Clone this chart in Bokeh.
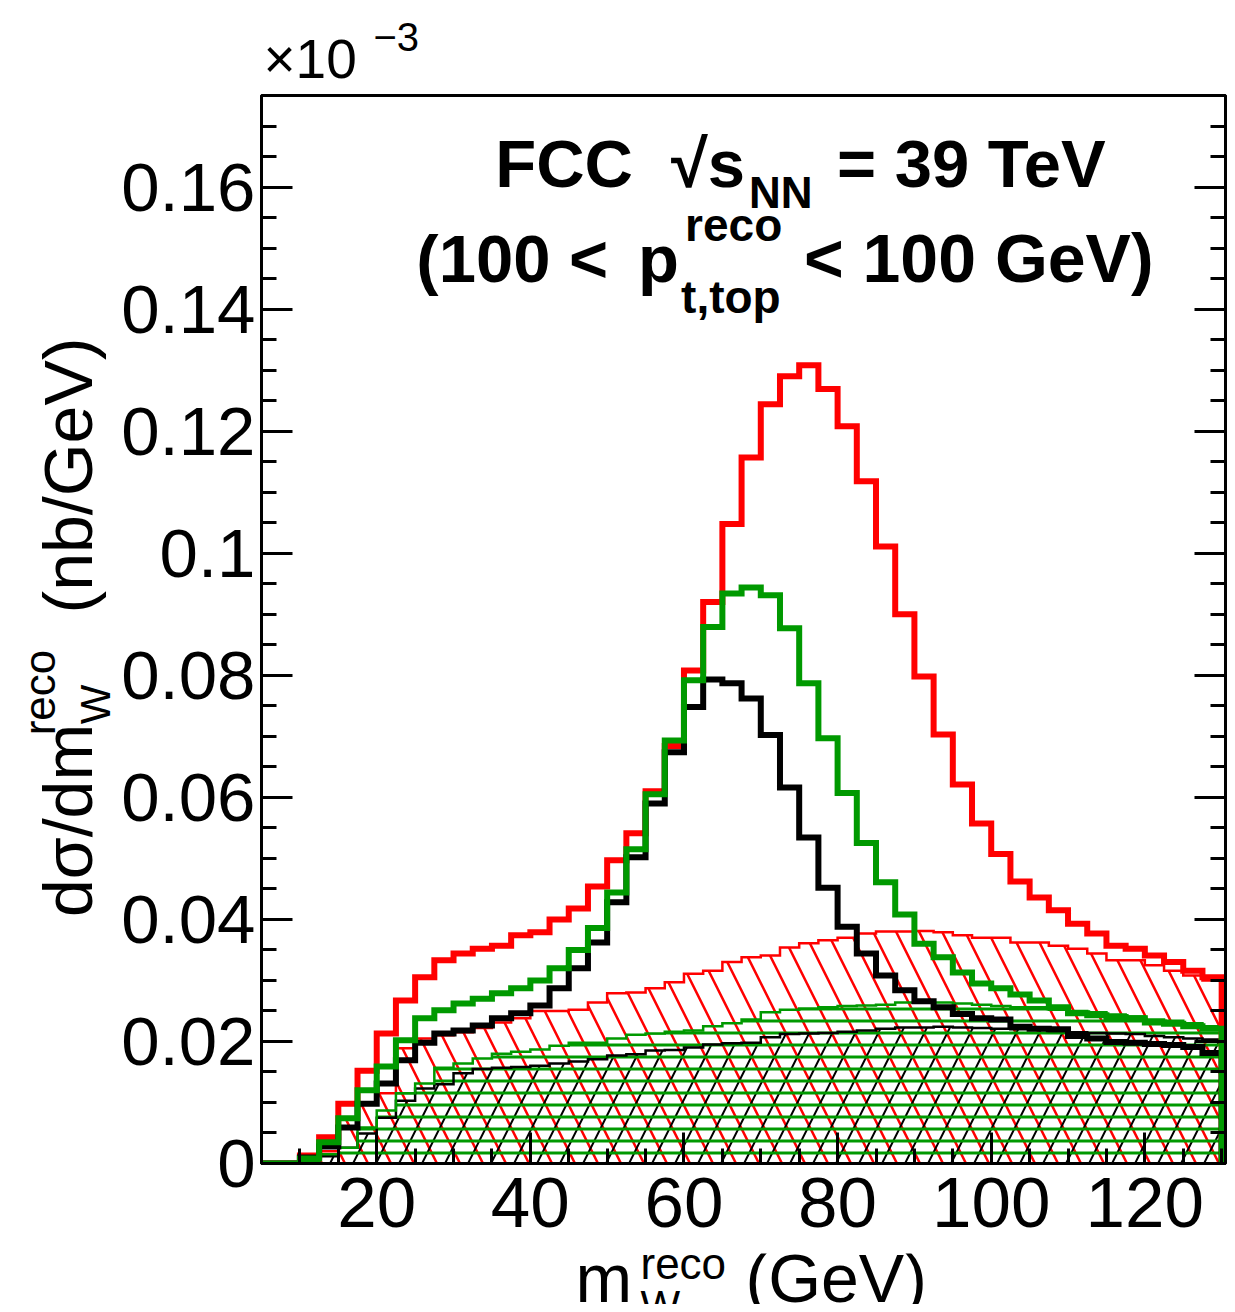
import math
from bokeh.plotting import figure
from bokeh.layouts import column, row
from bokeh.models import Range1d, FixedTicker, LinearAxis, Label, CustomJSTickFormatter
from bokeh.embed import file_html
from bokeh.resources import INLINE

# ---------------- data (dsigma/dm in units of 1e-3 nb/GeV) ----------------
bin_edges = [5.0, 7.5, 10.0, 12.5, 15.0, 17.5, 20.0, 22.5, 25.0, 27.5,
             30.0, 32.5, 35.0, 37.5, 40.0, 42.5, 45.0, 47.5, 50.0, 52.5,
             55.0, 57.5, 60.0, 62.5, 65.0, 67.5, 70.0, 72.5, 75.0, 77.5,
             80.0, 82.5, 85.0, 87.5, 90.0, 92.5, 95.0, 97.5, 100.0, 102.5,
             105.0, 107.5, 110.0, 112.5, 115.0, 117.5, 120.0, 122.5, 125.0, 127.5,
             130.0]

red_total = [0.0, 0.0, 0.0013, 0.0043, 0.0098, 0.0152, 0.0213, 0.0267, 0.0305, 0.0333,
             0.0344, 0.0352, 0.0357, 0.0374, 0.0379, 0.0400, 0.0418, 0.0454, 0.0497, 0.0541,
             0.0610, 0.0684, 0.0808, 0.0920, 0.1048, 0.1157, 0.1244, 0.1290, 0.1308, 0.1269,
             0.1208, 0.1118, 0.1011, 0.0900, 0.0798, 0.0703, 0.0621, 0.0557, 0.0507, 0.0462,
             0.0436, 0.0415, 0.0393, 0.0377, 0.0357, 0.0352, 0.0341, 0.0330, 0.0316, 0.0305]

black_total = [0.0, 0.0, 0.0010, 0.0028, 0.0059, 0.0098, 0.0131, 0.0169, 0.0198, 0.0213,
               0.0218, 0.0226, 0.0238, 0.0246, 0.0259, 0.0287, 0.0320, 0.0362, 0.0428, 0.0502,
               0.0590, 0.0674, 0.0748, 0.0793, 0.0787, 0.0762, 0.0702, 0.0616, 0.0534, 0.0452,
               0.0388, 0.0344, 0.0308, 0.0284, 0.0266, 0.0256, 0.0245, 0.0238, 0.0236, 0.0224,
               0.0221, 0.0220, 0.0209, 0.0205, 0.0199, 0.0198, 0.0196, 0.0194, 0.0191, 0.0181]

green_total = [0.0, 0.0, 0.0008, 0.0035, 0.0074, 0.0120, 0.0159, 0.0202, 0.0238, 0.0251,
               0.0262, 0.0270, 0.0279, 0.0287, 0.0300, 0.0320, 0.0350, 0.0386, 0.0444, 0.0515,
               0.0605, 0.0693, 0.0792, 0.0879, 0.0934, 0.0944, 0.0931, 0.0877, 0.0787, 0.0697,
               0.0607, 0.0525, 0.0461, 0.0408, 0.0360, 0.0338, 0.0313, 0.0295, 0.0287, 0.0277,
               0.0267, 0.0256, 0.0246, 0.0243, 0.0240, 0.0238, 0.0231, 0.0229, 0.0225, 0.0221]

red_hatch = [0.0, 0.0, 0.0005, 0.0020, 0.0075, 0.0100, 0.0115, 0.0189, 0.0205, 0.0210,
             0.0215, 0.0222, 0.0231, 0.0238, 0.0250, 0.0250, 0.0252, 0.0264, 0.0279, 0.0280,
             0.0287, 0.0297, 0.0311, 0.0316, 0.0330, 0.0338, 0.0341, 0.0354, 0.0361, 0.0366,
             0.0370, 0.0377, 0.0380, 0.0380, 0.0381, 0.0379, 0.0374, 0.0370, 0.0370, 0.0362,
             0.0362, 0.0357, 0.0352, 0.0344, 0.0333, 0.0333, 0.0325, 0.0316, 0.0308, 0.0300]

green_hatch = [0.0, 0.0, 0.0003, 0.0015, 0.0026, 0.0059, 0.0087, 0.0115, 0.0131, 0.0157,
               0.0164, 0.0172, 0.0180, 0.0183, 0.0187, 0.0193, 0.0198, 0.0198, 0.0205, 0.0211,
               0.0213, 0.0216, 0.0218, 0.0225, 0.0230, 0.0236, 0.0248, 0.0252, 0.0254, 0.0256,
               0.0258, 0.0259, 0.0260, 0.0264, 0.0266, 0.0264, 0.0262, 0.0260, 0.0258, 0.0256,
               0.0256, 0.0252, 0.0250, 0.0248, 0.0244, 0.0241, 0.0236, 0.0234, 0.0230, 0.0225]

black_hatch = [0.0, 0.0, 0.0003, 0.0012, 0.0026, 0.0049, 0.0075, 0.0103, 0.0123, 0.0130,
               0.0148, 0.0155, 0.0157, 0.0158, 0.0160, 0.0164, 0.0167, 0.0171, 0.0177, 0.0179,
               0.0185, 0.0186, 0.0190, 0.0195, 0.0197, 0.0198, 0.0207, 0.0212, 0.0213, 0.0214,
               0.0216, 0.0218, 0.0221, 0.0223, 0.0223, 0.0224, 0.0223, 0.0222, 0.0221, 0.0220,
               0.0219, 0.0217, 0.0215, 0.0214, 0.0213, 0.0212, 0.0209, 0.0207, 0.0205, 0.0203]

x_ticks = [20, 40, 60, 80, 100, 120]
x_tick_labels = ["20", "40", "60", "80", "100", "120"]
x_minor = [5, 10, 15, 20, 25, 30, 35, 40, 45, 50, 55, 60, 65, 70, 75, 80, 85, 90,
           95, 100, 105, 110, 115, 120, 125, 130]
y_ticks = [0.0, 0.02, 0.04, 0.06, 0.08, 0.1, 0.12, 0.14, 0.16]
y_tick_labels = ["0", "0.02", "0.04", "0.06", "0.08", "0.1", "0.12", "0.14", "0.16"]
y_minor = [0.0, 0.005, 0.01, 0.015, 0.02, 0.025, 0.03, 0.035, 0.04, 0.045, 0.05, 0.055,
           0.06, 0.065, 0.07, 0.075, 0.08, 0.085, 0.09, 0.095, 0.1, 0.105, 0.11, 0.115,
           0.12, 0.125, 0.13, 0.135, 0.14, 0.145, 0.15, 0.155, 0.16, 0.165, 0.17, 0.175]

# ---------------- layout geometry (page pixels) ----------------
X0, X1 = 5.0, 130.5
Y0, Y1 = 0.0, 0.175
FONT = "Liberation Sans"
RED = "#ff0000"
GREEN = "#009900"
BLACK = "#000000"
MID = 0.3465   # distance baseline -> em-box middle, in em

TOTAL_W = 1227
TOP_H = 90
LEFT_W = 118
MAIN_H = 1163
BOT_H = 51
FL, FR, FT, FB = 260.0, 1225.0, 95.0, 1163.0

def dx(px):
    return X0 + (px - FL) * (X1 - X0) / (FR - FL)
def dy(py):
    return Y0 + (FB - py) * (Y1 - Y0) / (FB - FT)

# ---------------- main figure ----------------
p = figure(width=TOTAL_W - LEFT_W, height=MAIN_H,
           x_range=Range1d(X0, X1), y_range=Range1d(Y0, Y1),
           output_backend="svg", toolbar_location=None,
           min_border_left=int(FL) - LEFT_W, min_border_right=TOTAL_W - int(FR),
           min_border_top=int(FT) - TOP_H,
           min_border_bottom=MAIN_H - (int(FB) - TOP_H))
p.xgrid.visible = False
p.ygrid.visible = False
p.background_fill_color = "white"
p.border_fill_color = "white"
p.outline_line_color = "black"
p.outline_line_width = 3

def style_axis(ax, size="69px"):
    ax.major_tick_in = 31
    ax.major_tick_out = 0
    ax.minor_tick_in = 15
    ax.minor_tick_out = 0
    ax.major_tick_line_width = 3
    ax.minor_tick_line_width = 3
    ax.axis_line_width = 3
    ax.major_tick_line_color = "black"
    ax.minor_tick_line_color = "black"
    ax.axis_line_color = "black"
    ax.major_label_text_font = FONT
    ax.major_label_text_font_size = size
    ax.major_label_text_color = "black"

xa = p.xaxis[0]
xa.ticker = FixedTicker(ticks=x_ticks, minor_ticks=x_minor)
xa.major_label_overrides = {t: l for t, l in zip(x_ticks, x_tick_labels)}
style_axis(xa, "71px")
xa.major_label_standoff = 14

ya = p.yaxis[0]
ya.ticker = FixedTicker(ticks=y_ticks, minor_ticks=y_minor)
ya.major_label_overrides = {t: l for t, l in zip(y_ticks, y_tick_labels)}
style_axis(ya, "69px")
ya.major_label_standoff = 6

ra = LinearAxis(ticker=FixedTicker(ticks=y_ticks, minor_ticks=y_minor),
                formatter=CustomJSTickFormatter(code="return ''"))
style_axis(ra)
ra.major_label_text_font_size = "0px"
ra.major_label_standoff = 0
p.add_layout(ra, "right")

def ext(v):
    return list(v) + [v[-1]]
zeros = [0.0] * len(bin_edges)

def outline(vals):
    xs, ys = [bin_edges[0]], [0.0]
    for i, v in enumerate(vals):
        xs += [bin_edges[i], bin_edges[i + 1]]
        ys += [v, v]
    xs.append(bin_edges[-1])
    ys.append(0.0)
    return xs, ys

p.varea_step(x=bin_edges, y1=zeros, y2=ext(red_hatch), step_mode="after",
             fill_alpha=0, hatch_pattern="\\", hatch_color=RED, hatch_weight=2.5, hatch_scale=46)
p.varea_step(x=bin_edges, y1=zeros, y2=ext(black_hatch), step_mode="after",
             fill_alpha=0, hatch_pattern="/", hatch_color=BLACK, hatch_weight=2.0, hatch_scale=46)
p.varea_step(x=bin_edges, y1=zeros, y2=ext(green_hatch), step_mode="after",
             fill_alpha=0, hatch_pattern="-", hatch_color=GREEN, hatch_weight=3.0, hatch_scale=12)

for vals, col in ((red_hatch, RED), (black_hatch, BLACK), (green_hatch, GREEN)):
    xs, ys = outline(vals)
    p.line(xs, ys, line_color=col, line_width=2.5, line_join="miter")

for vals, col in ((red_total, RED), (black_total, BLACK), (green_total, GREEN)):
    xs, ys = outline(vals)
    p.line(xs, ys, line_color=col, line_width=6, line_join="miter")

def lab(fig, cx, cy, text, px, base_y, size, bold=False, align="left"):
    fig.add_layout(Label(x=cx(px), y=cy(base_y - MID * size), text=text, text_font=FONT,
                         text_font_size=f"{size}px",
                         text_font_style="bold" if bold else "normal",
                         text_align=align, text_baseline="middle", text_color="black"))

def vlab(fig, cx, cy, text, base_x, center_y, size):
    fig.add_layout(Label(x=cx(base_x - MID * size), y=cy(center_y), text=text, text_font=FONT,
                         text_font_size=f"{size}px", angle=math.pi / 2,
                         text_align="center", text_baseline="middle", text_color="black"))

lab(p, dx, dy, "FCC", 494, 186, 67, True)
lab(p, dx, dy, "\u221as", 670, 186, 67, True)
lab(p, dx, dy, "NN", 748, 207, 44, True)
lab(p, dx, dy, "= 39 TeV", 836, 186, 67, True)
lab(p, dx, dy, "(100 <", 415, 281, 67, True)
lab(p, dx, dy, "p", 637, 281, 67, True)
lab(p, dx, dy, "reco", 684, 240, 46, True)
lab(p, dx, dy, "t,top", 680, 312, 46, True)
lab(p, dx, dy, "< 100 GeV)", 803, 281, 68, True)

def strip(w, h, x_left, y_top, y_bottom):
    # y_top / y_bottom: page rows that the strip's plotting frame spans
    f = figure(width=w, height=h, x_range=Range1d(x_left, x_left + w),
               y_range=Range1d(y_bottom, y_top),
               output_backend="svg", toolbar_location=None,
               x_axis_location=None, y_axis_location=None,
               min_border=0, min_border_left=0, min_border_right=0,
               min_border_top=0, min_border_bottom=0)
    f.grid.visible = False
    f.outline_line_color = None
    f.background_fill_color = "white"
    f.border_fill_color = "white"
    return f

ident = lambda v: v

top = strip(TOTAL_W, TOP_H, 0, 0, TOP_H)
lab(top, ident, ident, "\u00d710", 263, 78, 55)
lab(top, ident, ident, "\u22123", 373, 50, 40)

# inside a row Bokeh aligns this strip's frame with the main frame (page rows FT..FB)
left = strip(LEFT_W, MAIN_H, 0, FT, FB)
vlab(left, ident, ident, "d\u03c3/dm", 91, 820, 68)
vlab(left, ident, ident, "W", 110, 704, 42)
vlab(left, ident, ident, "reco", 54, 692, 44)
vlab(left, ident, ident, "(nb/GeV)", 91, 475, 68)

bottom = strip(TOTAL_W, BOT_H, 0, TOP_H + MAIN_H, TOP_H + MAIN_H + BOT_H)
lab(bottom, ident, ident, "m", 575, 1301, 68)
lab(bottom, ident, ident, "W", 640, 1320, 42)
lab(bottom, ident, ident, "reco", 640, 1278, 44)
lab(bottom, ident, ident, "(GeV)", 745, 1301, 68)

layout = column(top, row(left, p), bottom)
open("out.html", "w").write(file_html(layout, INLINE))
